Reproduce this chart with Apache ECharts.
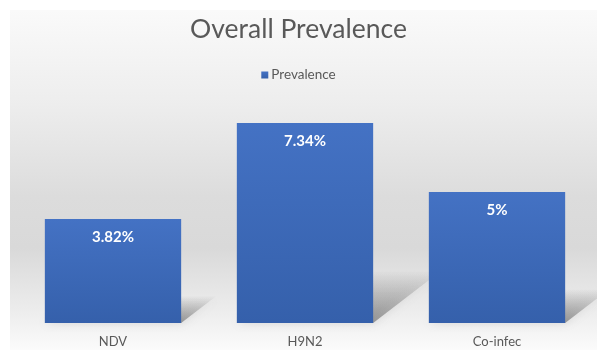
<!DOCTYPE html>
<html>
<head>
<meta charset="utf-8">
<script src="https://cdn.jsdelivr.net/npm/echarts@6/dist/echarts.min.js"></script>
<style>
html,body{margin:0;padding:0;background:#ffffff;}
#bg{position:absolute;left:10px;top:10px;width:587px;height:340px;
background:linear-gradient(to bottom,#fafafa 0%,#ededed 28%,#dcdcdc 55%,#d9d9d9 70%,#ececec 88%,#fbfbfb 100%);}
#chart{position:absolute;left:0;top:0;width:597px;height:350px;}
</style>
</head>
<body>
<div id="bg"></div>
<div id="chart"></div>
<script>
var categories = ["NDV", "H9N2", "Co-infec"];
var prevalence = [3.82, 7.34, 4.81];
var valueLabels = ["3.82%", "7.34%", "5%"];
var seriesName = "Prevalence";
var titleText = "Overall Prevalence";

var chart = echarts.init(document.getElementById('chart'), null, {renderer: 'canvas'});
var font = 'Lato, "Open Sans", sans-serif';

var option = {
  animation: false,
  backgroundColor: 'transparent',
  title: {
    text: titleText,
    left: 'center',
    top: 11,
    textStyle: {fontFamily: font, fontSize: 26.5, fontWeight: 'normal', color: '#595959'}
  },
  legend: {
    data: [seriesName],
    top: 63,
    left: 'center',
    itemWidth: 7,
    itemHeight: 7,
    itemGap: 4,
    icon: 'rect',
    textStyle: {fontFamily: font, fontSize: 13.5, color: '#595959', padding: [0,0,0,-2]}
  },
  grid: {left: 17, right: 4, top: 105, bottom: 27, containLabel: false},
  xAxis: {
    type: 'category',
    data: categories,
    axisLine: {show: false},
    axisTick: {show: false},
    axisLabel: {fontFamily: font, fontSize: 13, color: '#595959', margin: 12}
  },
  yAxis: {
    type: 'value',
    min: 0,
    max: 8,
    show: false,
    splitLine: {show: false}
  },
  series: [
    {
      type: 'custom',
      silent: true,
      z: 1,
      renderItem: function (params, api) {
        var base = api.coord([api.value(0), 0]);
        var top = api.coord([api.value(0), api.value(1)]);
        var w = api.size([1, 0])[0] * 0.71;
        var h = base[1] - top[1];
        var up = h * 0.26;
        var dx = up * 1.3;
        var xL = base[0] - w / 2, xR = base[0] + w / 2, yB = base[1];
        return {
          type: 'polygon',
          shape: {points: [[xL, yB], [xR, yB], [xR + dx, yB - up], [xL + dx, yB - up]]},
          style: {
            fill: new echarts.graphic.LinearGradient(0, 1, 0, 0, [
              {offset: 0, color: 'rgba(70,70,70,0.5)'},
              {offset: 1, color: 'rgba(70,70,70,0.0)'}
            ]),
            shadowBlur: 10,
            shadowColor: 'rgba(70,70,70,0.3)'
          }
        };
      },
      encode: {x: 0, y: 1},
      data: prevalence.map(function (v, i) { return [i, v]; })
    },
    {
      name: seriesName,
      type: 'bar',
      z: 2,
      barCategoryGap: '29%',
      data: prevalence,
      itemStyle: {
        color: new echarts.graphic.LinearGradient(0, 0, 0, 1, [
          {offset: 0, color: '#4472c4'},
          {offset: 1, color: '#3560ab'}
        ])
      },
      label: {
        show: true,
        position: 'insideTop',
        distance: 11,
        formatter: function (p) { return valueLabels[p.dataIndex]; },
        fontFamily: font,
        fontSize: 15,
        fontWeight: 'bold',
        color: '#ffffff'
      }
    }
  ]
};
chart.setOption(option);
</script>
</body>
</html>
